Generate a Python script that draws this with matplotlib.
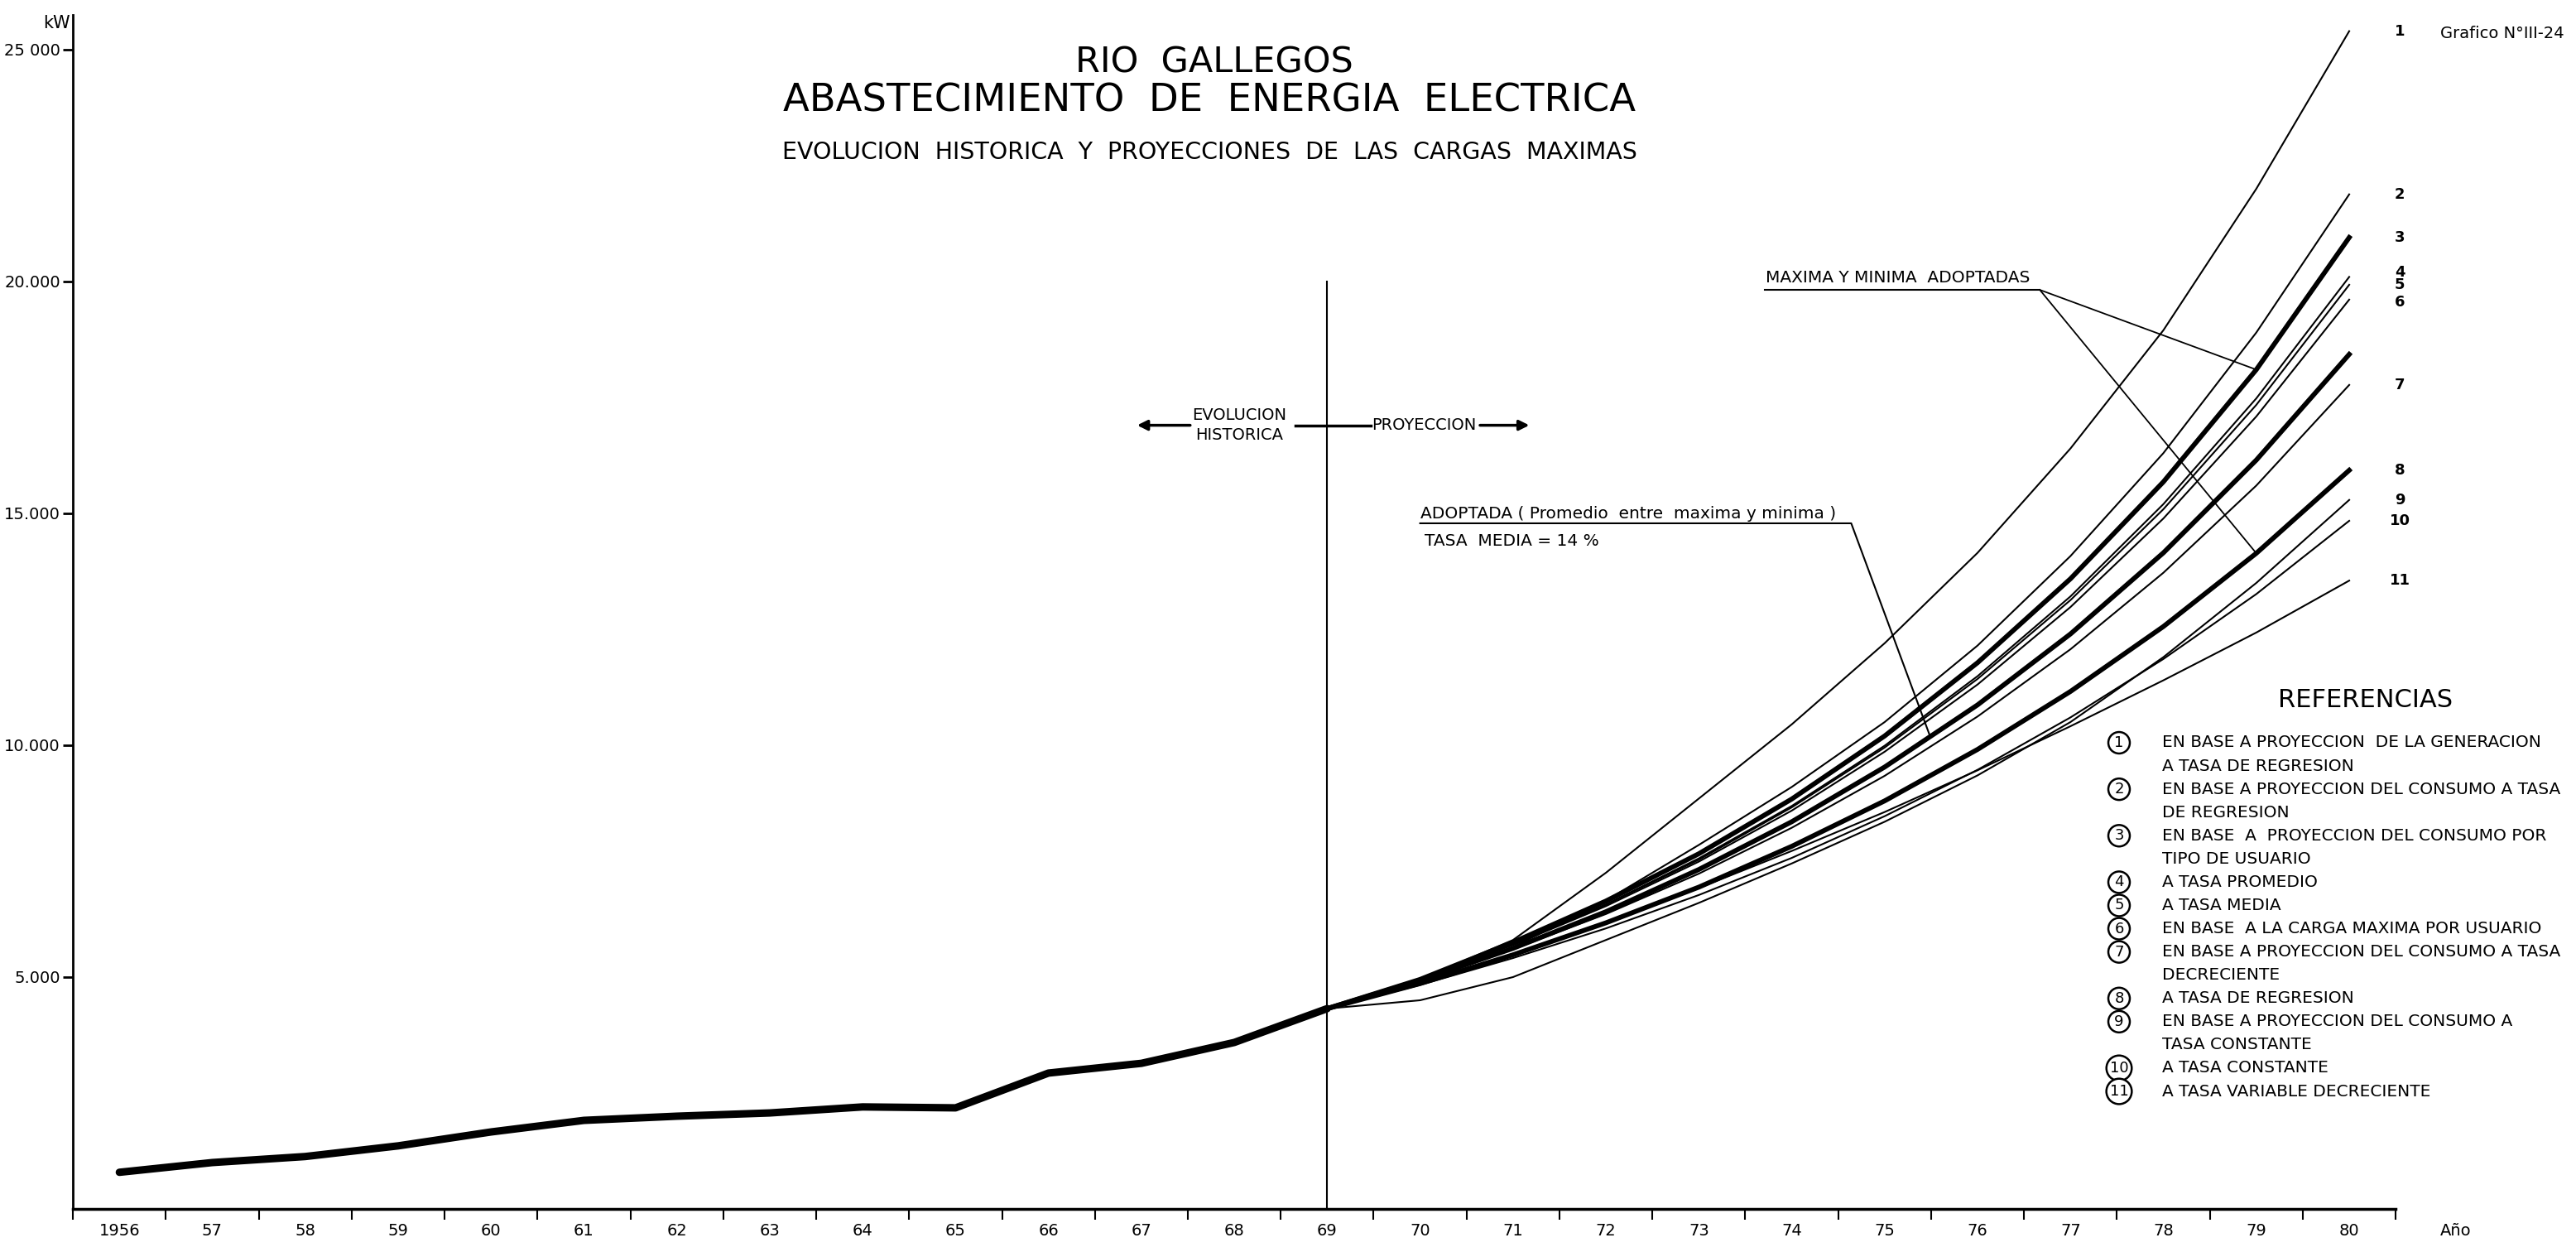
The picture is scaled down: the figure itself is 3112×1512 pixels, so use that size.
import matplotlib
matplotlib.use('Agg')
import numpy as np
import matplotlib.pyplot as plt


# historical maximum load (kW)
hist_years = [1956, 1957, 1958, 1959, 1960, 1961, 1962, 1963, 1964, 1965, 1966, 1967, 1968, 1969]
hist_kw = [790, 1000, 1130, 1360, 1660, 1910, 2000, 2070, 2200, 2180, 2930, 3140, 3590, 4320]

# projections 1969-1980 (kW), one list per numbered curve
proj_years = [1969, 1970, 1971, 1972, 1973, 1974, 1975, 1976, 1977, 1978, 1979, 1980]
proj_1 = [4320, 4950, 5800, 7250, 8850, 10450, 12200, 14150, 16400, 18950, 22000, 25400]
proj_2 = [4320, 4850, 5650, 6650, 7850, 9100, 10500, 12150, 14080, 16300, 18900, 21880]
proj_3 = [4320, 4950, 5750, 6640, 7660, 8840, 10200, 11780, 13590, 15680, 18100, 20950]
proj_4 = [4320, 4970, 5710, 6570, 7560, 8690, 9990, 11490, 13210, 15200, 17480, 20100]
proj_5 = [4320, 4960, 5700, 6560, 7530, 8660, 9950, 11430, 13130, 15090, 17340, 19930]
proj_6 = [4320, 4960, 5690, 6530, 7490, 8590, 9860, 11310, 12980, 14890, 17090, 19610]
proj_7 = [4320, 4920, 5600, 6360, 7230, 8220, 9340, 10620, 12070, 13720, 15600, 17770]
proj_8 = [4320, 4860, 5480, 6170, 6940, 7820, 8800, 9910, 11160, 12560, 14140, 15930]
proj_9 = [4320, 4500, 5000, 5800, 6600, 7450, 8350, 9350, 10500, 11900, 13500, 15290]
proj_10 = [4320, 4830, 5410, 6050, 6770, 7570, 8470, 9470, 10600, 11860, 13260, 14840]
proj_11 = [4320, 4880, 5500, 6180, 6920, 7720, 8560, 9460, 10410, 11400, 12430, 13550]
# adopted curve (average of max and min adopted, 14 %)
adopted = [4320, 4930, 5620, 6410, 7320, 8350, 9530, 10870, 12400, 14150, 16150, 18430]

curve_names = ['1', '2', '3', '4', '5', '6', '7', '8', '9', '10', '11']
bold_curves = ['3', '8']

year_labels = ['1956', '57', '58', '59', '60', '61', '62', '63', '64', '65', '66', '67',
			   '68', '69', '70', '71', '72', '73', '74', '75', '76', '77', '78', '79', '80']
ytick_values = [5000, 10000, 15000, 20000, 25000]
ytick_labels = ['5.000', '10.000', '15.000', '20.000', '25 000']

ref_numbers = ['1', '2', '3', '4', '5', '6', '7', '8', '9', '10', '11']
ref_texts = [
	'EN BASE A PROYECCION  DE LA GENERACION\nA TASA DE REGRESION',
	'EN BASE A PROYECCION DEL CONSUMO A TASA\nDE REGRESION',
	'EN BASE  A  PROYECCION DEL CONSUMO POR\nTIPO DE USUARIO',
	'A TASA PROMEDIO',
	'A TASA MEDIA',
	'EN BASE  A LA CARGA MAXIMA POR USUARIO',
	'EN BASE A PROYECCION DEL CONSUMO A TASA\nDECRECIENTE',
	'A TASA DE REGRESION',
	'EN BASE A PROYECCION DEL CONSUMO A\nTASA CONSTANTE',
	'A TASA CONSTANTE',
	'A TASA VARIABLE DECRECIENTE',
]


def main():
	'''draw the chart'''

	plt.rcParams['font.family'] = ['DejaVu Sans']
	fig = plt.figure(figsize=(31.12, 15.12), dpi=100)
	ax = fig.add_axes([0.0283, 0.0344, 0.9017, 0.9537])

	projections = [proj_1, proj_2, proj_3, proj_4, proj_5, proj_6,
				   proj_7, proj_8, proj_9, proj_10, proj_11]

	# historical evolution
	ax.plot(hist_years, hist_kw, color='black', lw=6.5, solid_capstyle='round',
			solid_joinstyle='round')

	# projection curves
	for name, values in zip(curve_names, projections):
		lw = 4.2 if name in bold_curves else 1.5
		ax.plot(proj_years, values, color='black', lw=lw)
		dy = 4 if name == '4' else (-2 if name == '6' else 0)
		ax.annotate(name, (proj_years[-1], values[-1]), xytext=(44, dy),
					textcoords='offset points', ha='center', va='center',
					fontsize=13, fontweight='bold', annotation_clip=False)
	ax.plot(proj_years, adopted, color='black', lw=4.2)

	# separation between history and projection
	ax.plot([1969, 1969], [0, 20000], color='black', lw=1.5)
	arrow_y = 16900
	ax.annotate('', xy=(1966.93, arrow_y), xytext=(1967.55, arrow_y),
				arrowprops=dict(arrowstyle='-|>', color='black', lw=2.5,
								mutation_scale=18))
	ax.plot([1968.66, 1969.47], [arrow_y, arrow_y], color='black', lw=2.5)
	ax.annotate('', xy=(1971.2, arrow_y), xytext=(1970.62, arrow_y),
				arrowprops=dict(arrowstyle='-|>', color='black', lw=2.5,
								mutation_scale=18))
	ax.text(1967.55, arrow_y + 50, 'EVOLUCION', fontsize=14, ha='left', va='bottom')
	ax.text(1967.58, arrow_y - 50, 'HISTORICA', fontsize=14, ha='left', va='top')
	ax.text(1969.48, arrow_y, 'PROYECCION', fontsize=14, ha='left', va='center')

	# adopted curve note
	ax.text(1970.0, 14900, 'ADOPTADA ( Promedio  entre  maxima y minima )',
			fontsize=14.5, ha='left', va='baseline')
	ax.text(1970.05, 14400, 'TASA  MEDIA = 14 %', fontsize=14.5, ha='left', va='center')
	x_end = 1975.49
	ax.plot([1970.0, 1974.64, x_end], [14786, 14786, np.interp(x_end, proj_years, adopted)],
			color='black', lw=1.5)

	# max / min adopted note
	ax.text(1973.72, 19990, 'MAXIMA Y MINIMA  ADOPTADAS', fontsize=14.5,
			ha='left', va='baseline')
	ax.plot([1973.71, 1976.67], [19820, 19820], color='black', lw=1.5)
	for values in (proj_3, proj_8):
		ax.plot([1976.67, 1979.0], [19820, np.interp(1979.0, proj_years, values)],
				color='black', lw=1.3)

	# axes
	ax.set_xlim(1955.5, 1980.5)
	ax.set_ylim(0, 25750)
	ax.spines['top'].set_visible(False)
	ax.spines['right'].set_visible(False)
	ax.spines['left'].set_linewidth(2)
	ax.spines['bottom'].set_linewidth(2.5)
	years = list(range(1956, 1981))
	ax.set_xticks(years)
	ax.set_xticklabels(year_labels, fontsize=14)
	ax.set_xticks([y - 0.5 for y in years] + [1980.5], minor=True)
	ax.tick_params(axis='x', which='major', length=0, pad=12)
	ax.tick_params(axis='x', which='minor', length=9, width=1.5, direction='out')
	ax.set_yticks(ytick_values)
	ax.set_yticklabels(ytick_labels, fontsize=14)
	ax.tick_params(axis='y', length=9, width=2, pad=2)

	fig.text(0.0272, 1 - 28 / 1512, 'kW', fontsize=15, ha='right', va='center')
	fig.text(0.9473, 1 - 1487 / 1512, 'Año', fontsize=14, ha='left', va='center')

	# titles
	fig.text(0.4714, 1 - 75 / 1512, 'RIO  GALLEGOS', fontsize=31, ha='center', va='center')
	fig.text(0.4695, 1 - 122 / 1512, 'ABASTECIMIENTO  DE  ENERGIA  ELECTRICA',
			 fontsize=33.5, ha='center', va='center')
	fig.text(0.4695, 1 - 184 / 1512,
			 'EVOLUCION  HISTORICA  Y  PROYECCIONES  DE  LAS  CARGAS  MAXIMAS',
			 fontsize=20.5, ha='center', va='center')
	fig.text(2948 / 3112, 1 - 40 / 1512, 'Grafico N°III-24', fontsize=14,
			 ha='left', va='center')

	# references block
	fig.text(2858 / 3112, 1 - 846 / 1512, 'REFERENCIAS', fontsize=22,
			 ha='center', va='center')
	top = 1 - 897 / 1512
	step = 28.07 / 1512
	row = 0
	for num, txt in zip(ref_numbers, ref_texts):
		y = top - row * step
		fig.text(2560 / 3112, y, num, fontsize=13, ha='center', va='center',
				 bbox=dict(boxstyle='circle,pad=0.22', fc='white', ec='black', lw=1.8))
		lines = txt.split('\n')
		for k, line in enumerate(lines):
			fig.text(2612 / 3112, y - k * step, line, fontsize=14.5, ha='left', va='center')
		row += len(lines)

	fig.savefig('out.png', dpi=100)


if __name__ == '__main__':
	main()
